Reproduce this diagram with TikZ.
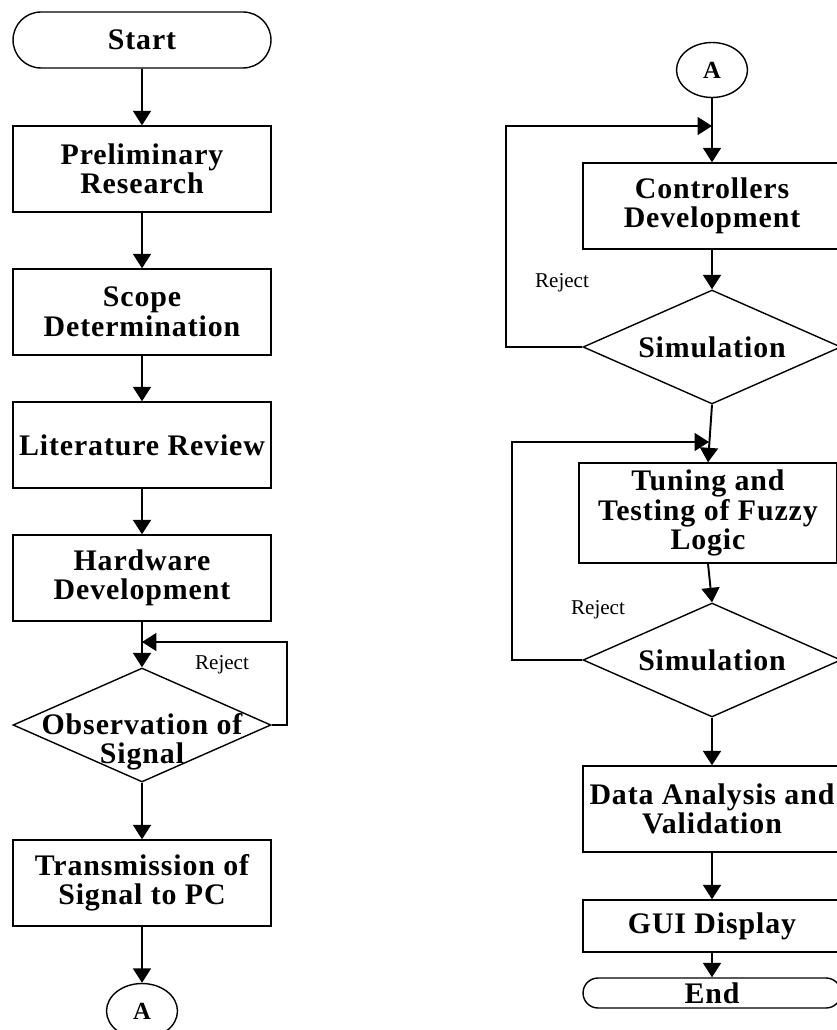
\documentclass[tikz,border=0pt]{standalone}
\usepackage{fontspec}
\setmainfont{Liberation Serif}
\newfontfamily\boxfont{Liberation Serif}[LetterSpace=3]
\usetikzlibrary{
  arrows.meta,
  shapes.geometric,
  shapes.misc,
  positioning
}
\tikzset{
  stepbox/.style={
    draw, line width=0.8pt, minimum width=5.16cm, minimum height=1.72cm,
    inner sep=0pt, align=center, font=\boxfont\bfseries\fontsize{17}{16.8}\selectfont
  },
  termbox/.style={stepbox, rounded rectangle, minimum height=1.12cm},
  decision/.style={draw, diamond, line width=0.8pt, minimum width=5.16cm, minimum height=2.28cm, inner sep=0pt},
  dtext/.style={align=center, inner sep=0pt, font=\boxfont\bfseries\fontsize{17}{16.8}\selectfont},
  conn/.style={draw, ellipse, line width=0.8pt, minimum width=1.42cm, minimum height=1.1cm, inner sep=0pt, font=\bfseries\fontsize{14}{16}\selectfont},
  flow/.style={-{Triangle[length=0.29cm, width=0.36cm]}, line width=1.1pt},
  rejtag/.style={font=\fontsize{12}{14}\selectfont, inner sep=0pt}
}

\begin{document}
\begin{tikzpicture}[x=0.02cm, y=-0.02cm]
  \useasboundingbox (0,0) rectangle (837,1030);
  % left column
  \node[termbox] (start) at (142,40) {Start};
  \node[stepbox] (prelim) at (142,169) {Preliminary\\Research};
  \node[stepbox] (scope) at (142,312) {Scope\\Determination};
  \node[stepbox] (lit) at (142,445) {Literature Review};
  \node[stepbox] (hw) at (142,578) {Hardware\\Development};
  \node[decision, label={[dtext, yshift=-0.34cm]center:{Observation of\\Signal}}] (obs) at (142,725) {};
  \node[stepbox] (trans) at (142,883) {Transmission of\\Signal to PC};
  \node[conn] (aout) at (142,1011) {A};
  \coordinate (jobs) at (142,642);
  \draw[flow] (start) -- (prelim);
  \draw[flow] (prelim) -- (scope);
  \draw[flow] (scope) -- (lit);
  \draw[flow] (lit) -- (hw);
  \draw[flow] (hw) -- (obs);
  \draw[flow] (obs) -- (trans);
  \draw[flow] (trans) -- (aout);
  \draw[flow] (obs.east) -- ++(15,0) |- (jobs);
  \node[rejtag] (rej1) at (222,665) {Reject};
  % right column
  \node[conn] (ain) at (712,70) {A};
  \coordinate (jsim1) at (712,126);
  \node[stepbox] (ctrl) at (712,206) {Controllers\\Development};
  \node[decision, label={[dtext]center:Simulation}] (sim1) at (712,347) {};
  \coordinate (jsim2) at (709,442);
  \node[stepbox, minimum height=2cm] (tune) at (708,513) {Tuning and\\Testing of Fuzzy\\Logic};
  \node[decision, label={[dtext]center:Simulation}] (sim2) at (712,660) {};
  \node[stepbox] (data) at (712,809) {Data Analysis and\\Validation};
  \node[stepbox, minimum height=1.04cm] (gui) at (712,926) {GUI Display};
  \node[termbox, minimum height=0.6cm] (end) at (712,993) {End};
  \draw[flow] (ain) -- (ctrl);
  \draw[flow] (ctrl) -- (sim1);
  \draw[flow] (sim1.south) -- (tune.north);
  \draw[flow] (tune.south) -- (sim2.north);
  \draw[flow] (sim2) -- (data);
  \draw[flow] (data) -- (gui);
  \draw[flow] (gui) -- (end);
  \draw[flow] (sim1.west) -- ++(-76,0) |- (jsim1);
  \draw[flow] (sim2.west) -- ++(-70,0) |- (jsim2);
  \node[rejtag] (rej2) at (562,283) {Reject};
  \node[rejtag] (rej3) at (598,610) {Reject};
\end{tikzpicture}
\end{document}
